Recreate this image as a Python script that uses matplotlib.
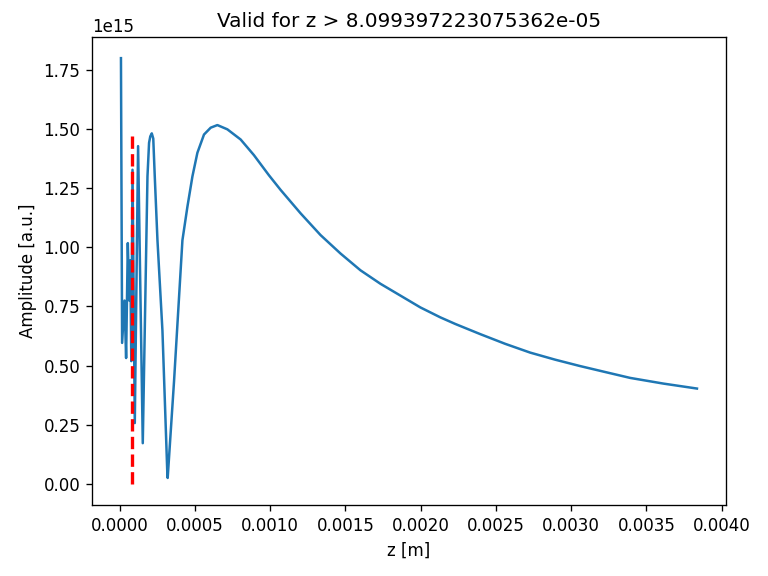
import numpy as np
import matplotlib
matplotlib.use("Agg")
from matplotlib import pyplot as plt

# points (z in m, amplitude in 1e15 a.u.)
zVals = [9.6e-6, 1.725e-5, 3.32e-5, 4.38e-5, 5.51e-5, 6.50e-5, 7.16e-5, 7.83e-5,
         8.63e-5, 1.015e-4, 1.234e-4, 1.545e-4,
         1.857e-4, 1.963e-4, 2.043e-4, 2.143e-4, 2.242e-4, 2.342e-4, 2.521e-4,
         2.852e-4, 3.184e-4, 3.20e-4,
         3.622e-4, 3.954e-4, 4.179e-4, 4.511e-4, 4.843e-4, 5.174e-4, 5.612e-4,
         6.057e-4, 6.501e-4, 7.165e-4, 8.047e-4, 8.928e-4, 9.373e-4, 9.924e-4,
         1.0700e-3, 1.2027e-3, 1.3353e-3, 1.4680e-3, 1.6007e-3, 1.7333e-3,
         1.8661e-3, 1.9987e-3, 2.1313e-3, 2.2309e-3, 2.3969e-3, 2.5625e-3,
         2.7280e-3, 2.8946e-3, 3.0601e-3, 3.2257e-3, 3.3922e-3, 3.6129e-3, 3.836e-3]
ampVals = [1.80, 0.596, 0.775, 0.532, 1.018, 0.775, 0.945, 0.519,
           1.328, 0.257, 1.428, 0.172,
           1.300, 1.442, 1.469, 1.482, 1.460, 1.299, 1.030,
           0.647, 0.030, 0.025,
           0.434, 0.789, 1.030, 1.172, 1.300, 1.400, 1.477,
           1.506, 1.517, 1.499, 1.456, 1.390, 1.352, 1.305,
           1.243, 1.144, 1.052, 0.974, 0.903, 0.846,
           0.796, 0.746, 0.704, 0.676, 0.633, 0.592,
           0.555, 0.525, 0.498, 0.473, 0.448, 0.424, 0.403]

zValid = 8.099397223075362e-05
validTop = 1.48

z = np.array(zVals)
amp = np.array(ampVals) * 1e15

fig, ax = plt.subplots(figsize=(6.4, 4.8), dpi=120)
fig.subplots_adjust(left=0.12, right=0.945, top=0.936, bottom=0.123)
ax.plot(z, amp)
ax.plot([zValid, zValid], [0, validTop * 1e15], 'r--', linewidth=2)
ax.set_title("Valid for z > " + str(zValid))
ax.set_xlabel("z [m]")
ax.set_ylabel("Amplitude [a.u.]")
fig.savefig("out.png")
